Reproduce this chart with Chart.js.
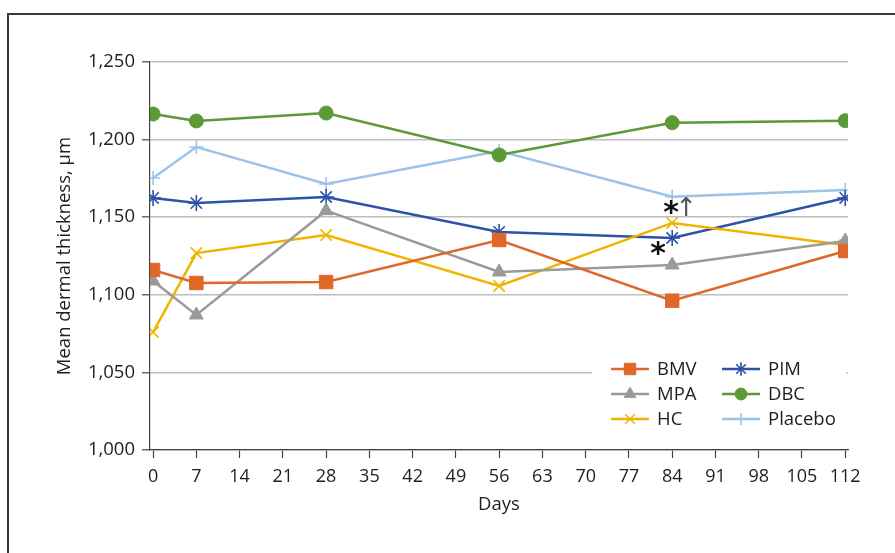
<!DOCTYPE html>
<html>
<head>
<meta charset="utf-8">
<script src="https://cdn.jsdelivr.net/npm/chart.js@4.4.0/dist/chart.umd.min.js"></script>
<style>
  html, body { margin: 0; padding: 0; background: #fff; }
  #wrap { position: relative; width: 895px; height: 553px; overflow: hidden; }
  #frame { position: absolute; left: 7px; top: 13px; width: 900px; height: 560px;
           border-left: 2px solid #3a3a3a; border-top: 2px solid #3a3a3a; }
  #chart { position: absolute; left: 0; top: 0; }
</style>
</head>
<body>
<div id="wrap">
  <div id="frame"></div>
  <canvas id="chart" width="895" height="553"></canvas>
</div>
<script>
const days = [0, 7, 28, 56, 84, 112];
const dayTicks = [0, 7, 14, 21, 28, 35, 42, 49, 56, 63, 70, 77, 84, 91, 98, 105, 112];

const bmv     = [1116.0, 1107.6, 1108.2, 1135.3, 1096.2, 1128.2];
const mpa     = [1108.9, 1087.0, 1154.2, 1114.7, 1119.2, 1134.7];
const hc      = [1076.0, 1126.9, 1138.5, 1105.7, 1146.3, 1132.1];
const pim     = [1162.4, 1159.1, 1163.0, 1140.5, 1136.6, 1162.4];
const dbc     = [1216.5, 1212.0, 1217.1, 1190.1, 1210.9, 1212.2];
const placebo = [1175.3, 1195.2, 1171.4, 1192.7, 1163.2, 1167.5];

const FONT = "'Open Sans', 'Noto Sans', sans-serif";

function pts(vals) {
  return vals.map((v, i) => ({ x: days[i], y: v }));
}

function series(label, vals, color, style, radius, filled) {
  return {
    label: label,
    data: pts(vals),
    borderColor: color,
    backgroundColor: color,
    borderWidth: 2.5,
    pointStyle: style,
    pointRadius: radius,
    pointHoverRadius: radius,
    pointBorderWidth: filled ? 1 : 1.6,
    pointBackgroundColor: color,
    pointBorderColor: color,
    tension: 0
  };
}

const datasets = [
  series("BMV", bmv, "#e0672a", "rect", 9.5, true),
  series("MPA", mpa, "#9a9a9a", "triangle", 8, true),
  series("HC", hc, "#f0b400", "crossRot", 8, false),
  series("PIM", pim, "#2d52a8", "star", 8, false),
  series("DBC", dbc, "#5c9a35", "circle", 7, true),
  series("Placebo", placebo, "#9cc3e8", "cross", 7, false)
];

// legend drawn inside plot area, two columns
const legendPlugin = {
  id: "insideLegend",
  afterDatasetsDraw(chart) {
    const ctx = chart.ctx;
    ctx.save();
    ctx.fillStyle = "#fff";
    ctx.fillRect(592, 352, 254, 84);
    const order = [[0, 3], [1, 4], [2, 5]];
    const rowsY = [369, 394, 419];
    const cols = [{ x0: 611, x1: 649, tx: 657 }, { x0: 722, x1: 760, tx: 768 }];
    order.forEach((row, r) => {
      row.forEach((di, c) => {
        const ds = chart.data.datasets[di];
        const col = cols[c];
        const y = rowsY[r];
        ctx.strokeStyle = ds.borderColor;
        ctx.lineWidth = 2.5;
        ctx.beginPath();
        ctx.moveTo(col.x0, y);
        ctx.lineTo(col.x1, y);
        ctx.stroke();
        ctx.fillStyle = ds.pointBackgroundColor;
        ctx.strokeStyle = ds.pointBorderColor;
        ctx.lineWidth = ds.pointBorderWidth;
        Chart.helpers.drawPoint(ctx, {
          pointStyle: ds.pointStyle,
          radius: ds.pointRadius * 0.85,
          borderWidth: ds.pointBorderWidth,
          rotation: 0
        }, (col.x0 + col.x1) / 2, y);
        ctx.fillStyle = "#1e1e1e";
        ctx.font = "18.5px " + FONT;
        ctx.textBaseline = "middle";
        ctx.textAlign = "left";
        ctx.fillText(ds.label, col.tx, y + 1);
      });
    });
    ctx.restore();
  }
};

// significance marks near day 84
const markPlugin = {
  id: "marks",
  afterDatasetsDraw(chart) {
    const ctx = chart.ctx;
    const xs = chart.scales.x, ys = chart.scales.y;
    const x84 = xs.getPixelForValue(84);
    const yPl = ys.getPixelForValue(placebo[4]);
    const yPim = ys.getPixelForValue(pim[4]);
    ctx.save();
    ctx.fillStyle = "#111";
    ctx.font = "bold 30px 'DejaVu Sans', sans-serif";
    ctx.textAlign = "center";
    ctx.textBaseline = "middle";
    ctx.fillText("*", x84 - 1, yPl + 17);
    ctx.fillText("*", x84 - 14, yPim + 17);
    ctx.fillStyle = "#555";
    ctx.font = "26px 'DejaVu Sans', sans-serif";
    ctx.fillText("\u2191", x84 + 14, yPl + 13);
    ctx.restore();
  }
};

new Chart(document.getElementById("chart"), {
  type: "line",
  data: { datasets: datasets },
  plugins: [legendPlugin, markPlugin],
  options: {
    responsive: false,
    animation: false,
    layout: { padding: { left: 50, right: 47, top: 62, bottom: 33 } },
    plugins: {
      legend: { display: false },
      tooltip: { enabled: false }
    },
    scales: {
      x: {
        type: "linear",
        min: -0.5,
        max: 112.45,
        afterBuildTicks(scale) {
          scale.ticks = dayTicks.map(v => ({ value: v }));
        },
        afterFit(scale) { scale.height = 70; },
        grid: {
          drawOnChartArea: false,
          drawTicks: true,
          tickLength: 8,
          tickColor: "#444",
          tickWidth: 1.2
        },
        border: { color: "#444", width: 1.2 },
        ticks: {
          color: "#1e1e1e",
          font: { family: FONT, size: 18 },
          padding: 8,
          maxRotation: 0,
          autoSkip: false
        },
        title: {
          display: true,
          text: "Days",
          color: "#1e1e1e",
          font: { family: FONT, size: 18.5 },
          padding: { top: 0, bottom: 4 }
        }
      },
      y: {
        min: 1000,
        max: 1250,
        afterFit(scale) { scale.width = 100; },
        ticks: {
          stepSize: 50,
          color: "#1e1e1e",
          font: { family: FONT, size: 18.5 },
          padding: 7,
          callback: v => v.toLocaleString("en-US")
        },
        grid: {
          color: "#bdbdbd",
          lineWidth: 1.6,
          drawTicks: true,
          tickLength: 8,
          tickColor: "#444",
          tickWidth: 1.2
        },
        border: { color: "#444", width: 1.2 },
        title: {
          display: true,
          text: "Mean dermal thickness, \u00b5m",
          color: "#1e1e1e",
          font: { family: FONT, size: 18.5 },
          padding: { top: 4, bottom: 0 }
        }
      }
    }
  }
});
</script>
</body>
</html>
